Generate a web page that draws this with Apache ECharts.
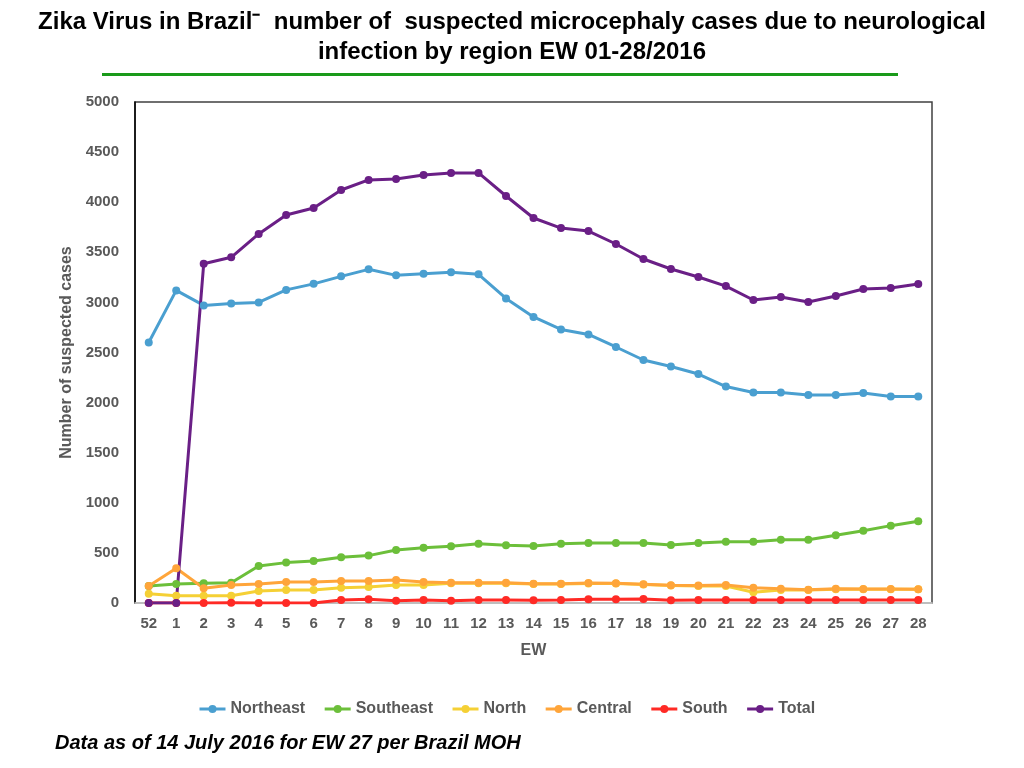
<!DOCTYPE html>
<html><head><meta charset="utf-8">
<script src="https://cdn.jsdelivr.net/npm/echarts@6/dist/echarts.min.js"></script>
<style>html,body{margin:0;padding:0;background:#fff}#c{width:1024px;height:768px}</style>
</head><body><div id="c"></div>
<script>
var weeks = ['52','1','2','3','4','5','6','7','8','9','10','11','12','13','14','15','16','17','18','19','20','21','22','23','24','25','26','27','28'];
var northeast = [2600,3120,2970,2990,3000,3125,3185,3260,3330,3270,3285,3300,3280,3040,2855,2730,2680,2555,2425,2360,2285,2160,2100,2100,2075,2075,2095,2060,2060];
var southeast = [170,190,197,203,370,403,420,456,473,529,552,566,592,576,569,592,599,599,599,579,599,612,612,632,632,676,722,772,816];
var north = [93,73,73,73,120,130,130,153,160,180,180,197,197,197,190,190,195,195,185,175,170,170,107,130,130,137,137,137,137];
var central = [170,346,147,180,190,210,210,220,220,230,210,203,203,203,193,193,200,197,187,177,174,180,153,143,133,143,140,140,137];
var south = [0,0,0,3,0,0,0,30,37,23,30,23,30,30,27,30,37,37,40,27,30,30,30,30,30,30,30,30,30];
var total = [0,0,3385,3450,3683,3872,3942,4122,4222,4232,4272,4292,4292,4062,3842,3742,3712,3583,3433,3333,3253,3163,3024,3054,3004,3064,3134,3144,3184];
var yTicks = [0,500,1000,1500,2000,2500,3000,3500,4000,4500,5000];

var names = ['Northeast','Southeast','North','Central','South','Total'];
var colors = ['#4a9fd0','#6cbf3a','#f5d035','#ffa53a','#ff2a25','#6a1f86'];
var datas = [northeast,southeast,north,central,south,total];

var chart = echarts.init(document.getElementById('c'));
var font = 'Liberation Sans, Arial, Helvetica, sans-serif';
chart.setOption({
  animation:false,
  color: colors,
  textStyle:{fontFamily:font},
  title:{
    text:'Zika Virus in Brazil\u207B  number of  suspected microcephaly cases due to neurological\ninfection by region EW 01-28/2016',
    left:'center', top:2,
    textStyle:{fontFamily:font,fontSize:24,fontWeight:'bold',color:'#000',lineHeight:30,align:'center'}
  },
  graphic:[
    {type:'rect',shape:{x:102,y:73,width:796,height:3},style:{fill:'#1a9a1a'}},
    {type:'text',left:55,top:733,style:{text:'Data as of 14 July 2016 for EW 27 per Brazil MOH',font:'italic bold 20px '+font,fill:'#000'}}
  ],
  grid:{left:135,right:92,top:102,bottom:165,show:true,borderColor:'#404040',borderWidth:1.5},
  legend:{
    bottom:46, left:193,
    itemWidth:26, itemHeight:10, itemGap:18,
    lineStyle:{width:3},
    textStyle:{fontFamily:font,fontSize:16,fontWeight:'bold',color:'#595959'},
    data:names
  },
  xAxis:{
    type:'category', data:weeks, boundaryGap:true,
    name:'EW', nameLocation:'middle', nameGap:40,
    nameTextStyle:{fontFamily:font,fontSize:16,fontWeight:'bold',color:'#595959'},
    axisLine:{lineStyle:{color:'#d9d9d9',width:1.5}},
    axisTick:{show:false},
    axisLabel:{fontFamily:font,fontSize:15,fontWeight:'bold',color:'#595959',margin:13,interval:0}
  },
  yAxis:{
    type:'value', min:yTicks[0], max:yTicks[yTicks.length-1], interval:yTicks[1]-yTicks[0],
    name:'Number of suspected cases', nameLocation:'middle', nameGap:57,
    nameTextStyle:{fontFamily:font,fontSize:16,fontWeight:'bold',color:'#595959'},
    axisLine:{show:true,lineStyle:{color:'#000',width:1.5}},
    axisTick:{show:false},
    splitLine:{show:false},
    axisLabel:{fontFamily:font,fontSize:15,fontWeight:'bold',color:'#595959',margin:16,
      formatter:function(v){return String(v);}}
  },
  series: names.map(function(n,i){
    return {name:n,type:'line',data:datas[i],symbol:'circle',symbolSize:8,
      lineStyle:{width:3,color:colors[i]},itemStyle:{color:colors[i]}};
  })
});
</script></body></html>
